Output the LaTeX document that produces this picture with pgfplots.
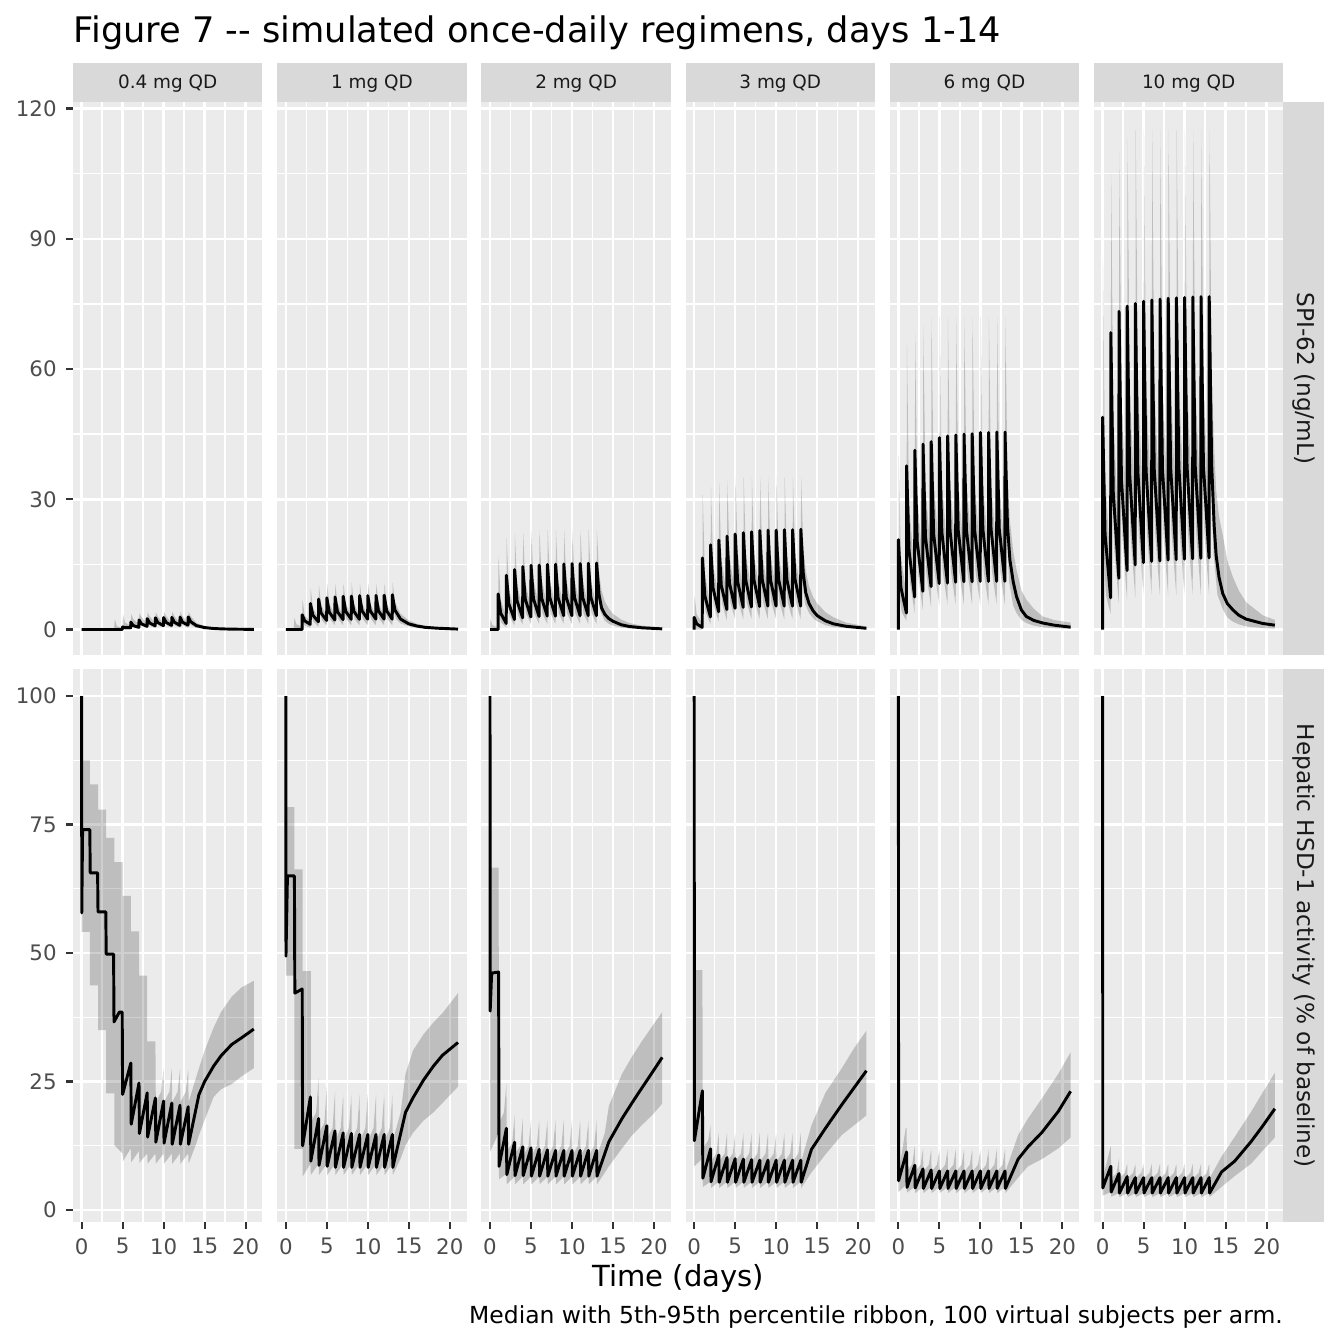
\documentclass[border=0pt]{standalone}
\usepackage{fontspec}
\setmainfont{DejaVu Sans}
\usepackage{pgfplots}
\pgfplotsset{compat=1.18}
\usepgfplotslibrary{fillbetween}

\definecolor{panelbg}{HTML}{EBEBEB}
\definecolor{stripbg}{HTML}{D9D9D9}
\definecolor{tickc}{HTML}{333333}
\definecolor{ticklab}{HTML}{4D4D4D}
\definecolor{striptext}{HTML}{1A1A1A}

\pgfplotsset{
  panel/.style={scale only axis, width=71.03pt, height=207.26pt,
    xmin=-1.05, xmax=22.05, enlargelimits=false, anchor=north west,
    axis background/.style={fill=panelbg}, axis line style={draw=none},
    grid=both, major grid style={draw=white, line width=0.95pt},
    minor grid style={draw=white, line width=0.5pt},
    xtick={0,5,10,15,20}, xticklabels={0,5,10,15,20}, minor xtick={2.5,7.5,12.5,17.5},
    tick align=outside, tick pos=left, major tick length=2.6pt, minor tick length=0pt,
    tick style={draw=tickc, line width=0.8pt},
    ticklabel style={font=\fontsize{8}{9}\selectfont, text=ticklab}},
  toprow/.style={ymin=-5.8, ymax=121.5, ytick={0,30,60,90,120},
    yticklabels={0,30,60,90,120}, minor ytick={15,45,75,105}, xmajorticks=false},
  botrow/.style={ymin=-2.33, ymax=105.2, ytick={0,25,50,75,100},
    yticklabels={0,25,50,75,100}, minor ytick={12.5,37.5,62.5,87.5}},
  innercol/.style={ymajorticks=false},
  med/.style={black, line width=1.1pt, line join=round},
  rib/.style={draw=none, fill=black, fill opacity=0.19},
  edge/.style={draw=none, forget plot},
}

\begin{document}
\begin{tikzpicture}
\path (0,0) rectangle (504pt,-504pt);

% ---------------- top row: SPI-62 concentration ----------------
% 0.4 mg QD
\begin{axis}[panel, toprow, at={(27.375pt,-38.25pt)}]
\addplot[edge, name path=ha] coordinates {(0,0)(3.95,0)(4.05,2.4)(4.3,0.8)(4.98,0.3)(5.05,3.4)(5.3,1.6)(5.98,0.9)(6.05,3.5)(6.3,2.4)(6.98,1.2)(7.05,3.8)(7.3,2.8)(7.98,1.4)(8.05,4)(8.3,3)(8.98,1.5)(9.05,4)(9.3,3)(9.98,1.5)(10.05,4.1)(10.3,3.1)(10.98,1.5)(11.05,4.1)(11.3,3.1)(11.98,1.5)(12.05,4.1)(12.3,3.1)(12.98,1.5)(13.05,4.1)(13.3,3.1)(14,1.5)(15,0.8)(16,0.45)(17,0.3)(18.5,0.15)(21,0.06)};
\addplot[edge, name path=la] coordinates {(0,0)(5.98,0)(6.1,0.8)(6.5,0.4)(6.98,0.25)(7.1,1.2)(7.5,0.6)(7.98,0.35)(8.1,1.4)(8.5,0.7)(8.98,0.4)(9.1,1.5)(9.5,0.8)(9.98,0.45)(10.1,1.5)(10.5,0.8)(10.98,0.45)(11.1,1.5)(11.5,0.8)(11.98,0.5)(12.1,1.5)(12.5,0.8)(12.98,0.5)(13.1,1.5)(13.5,0.8)(14,0.4)(15,0.15)(16,0.05)(21,0)};
\addplot[rib] fill between[of=ha and la];
\addplot[med] coordinates {(0,0)(4.95,0)(5,0.6)(5.3,0.45)(5.98,0.4)(6,1.7)(6.3,0.9)(6.98,0.5)(7,2.2)(7.3,1.3)(7.98,0.75)(8,2.5)(8.3,1.5)(8.98,0.85)(9,2.7)(9.3,1.6)(9.98,0.9)(10,2.75)(10.3,1.65)(10.98,0.95)(11,2.8)(11.3,1.7)(11.98,0.95)(12,2.85)(12.3,1.7)(12.98,1)(13,2.9)(13.3,1.8)(14,0.9)(15,0.45)(16,0.25)(17,0.15)(18.5,0.08)(21,0.03)};
\end{axis}

% 1 mg QD
\begin{axis}[panel, toprow, innercol, at={(103.95pt,-38.25pt)}]
\addplot[edge, name path=hb] coordinates {(0,0)(0.95,0)(1.05,2.7)(1.3,1.2)(1.98,0.6)(2.04,7)(2.3,3.2)(2.98,2)(3.04,9.5)(3.3,5)(3.98,2.7)(4.04,10.3)(4.3,5.7)(4.98,3.1)(5.04,10.7)(5.3,6)(5.98,3.3)(6.04,10.7)(6.3,6)(6.98,3.3)(7.04,10.7)(7.3,6)(7.98,3.3)(8.04,10.7)(8.3,6)(8.98,3.3)(9.04,10.7)(9.3,6)(9.98,3.3)(10.04,10.7)(10.3,6)(10.98,3.3)(11.04,10.7)(11.3,6)(11.98,3.3)(12.04,10.7)(12.3,6)(12.98,3.3)(13.04,10.8)(13.3,6.3)(14,3.6)(15,2.1)(16,1.3)(17,0.85)(18.5,0.5)(21,0.2)};
\addplot[edge, name path=lb] coordinates {(0,0)(2.05,0)(2.1,1.5)(2.4,0.8)(2.98,0.4)(3.1,3)(3.4,1.8)(3.98,0.6)(4.1,4)(4.4,2.2)(4.98,0.9)(5.1,4.3)(5.4,2.4)(5.98,1)(6.1,4.3)(6.4,2.4)(6.98,1)(7.1,4.3)(7.4,2.4)(7.98,1)(8.1,4.3)(8.4,2.4)(8.98,1)(9.1,4.3)(9.4,2.4)(9.98,1)(10.1,4.3)(10.4,2.4)(10.98,1)(11.1,4.3)(11.4,2.4)(11.98,1)(12.1,4.3)(12.4,2.4)(12.98,1)(13.1,4.4)(13.5,2.3)(14,1.4)(15,0.7)(16,0.4)(17,0.25)(18.5,0.12)(21,0.04)};
\addplot[rib] fill between[of=hb and lb];
\addplot[med] coordinates {(0,0)(1.98,0)(2,3.4)(2.3,2)(2.98,1.2)(3,6)(3.3,3.3)(3.98,1.8)(4,7)(4.3,3.8)(4.98,2.1)(5,7.3)(5.3,4)(5.98,2.2)(6,7.5)(6.3,4.1)(6.98,2.3)(7,7.65)(7.3,4.2)(7.98,2.35)(8,7.7)(8.3,4.2)(8.98,2.35)(9,7.8)(9.3,4.3)(9.98,2.4)(10,7.8)(10.3,4.3)(10.98,2.4)(11,7.85)(11.3,4.3)(11.98,2.4)(12,7.9)(12.3,4.3)(12.98,2.4)(13,8)(13.3,4.5)(14,2.4)(15,1.3)(16,0.8)(17,0.5)(18.5,0.3)(21,0.1)};
\end{axis}

% 2 mg QD
\begin{axis}[panel, toprow, innercol, at={(180.525pt,-38.25pt)}]
\addplot[edge, name path=hc] coordinates {(0,0)(0.04,2.5)(0.3,1)(0.98,0.5)(1.04,17)(1.3,7)(1.98,2.8)(2.04,21)(2.3,9.5)(2.98,4)(3.04,22)(3.3,10.5)(3.98,4.6)(4.04,22.5)(4.3,11)(4.98,5)(5.04,23)(5.3,11.5)(5.98,5.3)(6.04,23)(6.3,11.5)(6.98,5.3)(7.04,23)(7.3,11.5)(7.98,5.3)(8.04,23)(8.3,11.5)(8.98,5.3)(9.04,23)(9.3,11.5)(9.98,5.3)(10.04,23)(10.3,11.5)(10.98,5.3)(11.04,23)(11.3,11.5)(11.98,5.3)(12.04,23)(12.3,11.5)(12.98,5.3)(13.04,23)(13.3,13)(13.6,9)(14,6.5)(14.5,4.8)(15,3.6)(16,2.3)(17,1.5)(18.5,0.9)(21,0.4)};
\addplot[edge, name path=lc] coordinates {(0,0)(0.98,0)(1.1,3.5)(1.4,1.5)(1.98,0.5)(2.1,6.5)(2.4,3)(2.98,0.9)(3.1,7.5)(3.4,3.4)(3.98,1.1)(4.1,8)(4.4,3.7)(4.98,1.3)(5.1,8)(5.4,3.7)(5.98,1.3)(6.1,8)(6.4,3.7)(6.98,1.3)(7.1,8)(7.4,3.7)(7.98,1.3)(8.1,8)(8.4,3.7)(8.98,1.3)(9.1,8)(9.4,3.7)(9.98,1.3)(10.1,8)(10.4,3.7)(10.98,1.3)(11.1,8)(11.4,3.7)(11.98,1.3)(12.1,8)(12.4,3.7)(12.98,1.3)(13.1,8)(13.5,4)(14,2)(14.5,1.3)(15,0.9)(16,0.45)(17,0.25)(18.5,0.12)(21,0.04)};
\addplot[rib] fill between[of=hc and lc];
\addplot[med] coordinates {(0,0)(0.98,0)(1,8.2)(1.3,3.8)(1.98,1.4)(2,12.5)(2.3,5.9)(2.98,2.3)(3,13.8)(3.3,6.6)(3.98,2.7)(4,14.5)(4.3,7)(4.98,2.9)(5,14.8)(5.3,7.1)(5.98,3)(6,14.85)(6.3,7.2)(6.98,3.1)(7,15)(7.3,7.3)(7.98,3.1)(8,15.05)(8.3,7.3)(8.98,3.2)(9,15.1)(9.3,7.4)(9.98,3.2)(10,15.2)(10.3,7.4)(10.98,3.2)(11,15.2)(11.3,7.4)(11.98,3.2)(12,15.25)(12.3,7.4)(12.98,3.2)(13,15.3)(13.3,8)(13.6,5)(14,3.5)(14.5,2.5)(15,1.9)(16,1.1)(17,0.7)(18.5,0.4)(21,0.15)};
\end{axis}

% 3 mg QD
\begin{axis}[panel, toprow, innercol, at={(257.1pt,-38.25pt)}]
\addplot[edge, name path=hd] coordinates {(0,0)(0.04,8)(0.3,3.5)(0.98,1.5)(1.04,31)(1.3,13)(1.98,5.2)(2.04,33)(2.3,15.5)(2.98,7)(3.04,34)(3.3,16.5)(3.98,7.8)(4.04,34.5)(4.3,17)(4.98,8.3)(5.04,35)(5.3,17.5)(5.98,8.7)(6.04,35)(6.3,17.5)(6.98,8.7)(7.04,35)(7.3,17.5)(7.98,8.7)(8.04,35)(8.3,17.5)(8.98,8.7)(9.04,35)(9.3,17.5)(9.98,8.7)(10.04,35)(10.3,17.5)(10.98,8.7)(11.04,35)(11.3,17.5)(11.98,8.7)(12.04,35)(12.3,17.5)(12.98,8.7)(13.04,35)(13.3,19)(13.6,13.5)(14,10)(14.5,7.5)(15,6)(16,4)(17,2.8)(18.5,1.6)(21,0.7)};
\addplot[edge, name path=ld] coordinates {(0,0)(0.98,0)(1.1,8)(1.4,4)(1.98,1.2)(2.1,11)(2.4,5.5)(2.98,1.8)(3.1,12)(3.4,6)(3.98,2.1)(4.1,12.5)(4.4,6.3)(4.98,2.4)(5.1,12.5)(5.4,6.3)(5.98,2.4)(6.1,12.5)(6.4,6.3)(6.98,2.4)(7.1,12.5)(7.4,6.3)(7.98,2.4)(8.1,12.5)(8.4,6.3)(8.98,2.4)(9.1,12.5)(9.4,6.3)(9.98,2.4)(10.1,12.5)(10.4,6.3)(10.98,2.4)(11.1,12.5)(11.4,6.3)(11.98,2.4)(12.1,12.5)(12.4,6.3)(12.98,2.4)(13.1,12.5)(13.5,6)(14,3.8)(14.5,2.6)(15,1.9)(16,1)(17,0.55)(18.5,0.3)(21,0.1)};
\addplot[rib] fill between[of=hd and ld];
\addplot[med] coordinates {(0,0)(0,2.8)(0.3,1.3)(0.98,0.5)(1,16.5)(1.3,7.7)(1.98,2.9)(2,19.5)(2.3,9.5)(2.98,4.1)(3,20.6)(3.3,10.2)(3.98,4.6)(4,21.5)(4.3,10.7)(4.98,4.9)(5,22)(5.3,11)(5.98,5.1)(6,22.3)(6.3,11.2)(6.98,5.2)(7,22.5)(7.3,11.3)(7.98,5.3)(8,22.8)(8.3,11.5)(8.98,5.4)(9,22.9)(9.3,11.5)(9.98,5.4)(10,22.9)(10.3,11.5)(10.98,5.4)(11,23)(11.3,11.5)(11.98,5.4)(12,23)(12.3,11.5)(12.98,5.4)(13,23.1)(13.3,13)(13.6,8.5)(14,6)(14.5,4.3)(15,3.2)(16,2)(17,1.3)(18.5,0.75)(21,0.28)};
\end{axis}

% 6 mg QD
\begin{axis}[panel, toprow, innercol, at={(333.675pt,-38.25pt)}]
\addplot[edge, name path=he] coordinates {(0,0)(0.04,40)(0.3,17)(0.98,8)(1.04,66)(1.3,29)(1.98,13)(2.04,68)(2.3,31)(2.98,15)(3.04,70)(3.3,33)(3.98,16.5)(4.04,72)(4.3,34)(4.98,17.5)(5.04,72)(5.3,34)(5.98,17.5)(6.04,72)(6.3,34)(6.98,17.5)(7.04,72)(7.3,34)(7.98,17.5)(8.04,72)(8.3,34)(8.98,17.5)(9.04,72)(9.3,34)(9.98,17.5)(10.04,72)(10.3,34)(10.98,17.5)(11.04,72)(11.3,34)(11.98,17.5)(12.04,72)(12.3,34)(12.98,17.5)(13.04,72)(13.3,36)(13.6,25)(14,18)(14.4,13.8)(15,9)(15.6,6.9)(16.5,4.8)(17.6,3)(19,2.2)(21,1.6)};
\addplot[edge, name path=le] coordinates {(0,0)(0.1,8)(0.4,4)(0.98,2)(1.1,22)(1.4,11)(1.98,3.8)(2.1,25)(2.4,12.5)(2.98,4.5)(3.1,26)(3.4,13)(3.98,5.2)(4.1,27)(4.4,13.5)(4.98,5.7)(5.1,27)(5.4,13.5)(5.98,5.7)(6.1,27)(6.4,13.5)(6.98,5.7)(7.1,27)(7.4,13.5)(7.98,5.7)(8.1,27)(8.4,13.5)(8.98,5.7)(9.1,27)(9.4,13.5)(9.98,5.7)(10.1,27)(10.4,13.5)(10.98,5.7)(11.1,27)(11.4,13.5)(11.98,5.7)(12.1,27)(12.4,13.5)(12.98,5.7)(13.1,27)(13.5,11)(14,5.5)(14.4,3.8)(15,2.2)(15.6,1.5)(16.5,0.9)(17.6,0.5)(19,0.3)(21,0.15)};
\addplot[rib] fill between[of=he and le];
\addplot[med] coordinates {(0,0)(0,20.7)(0.3,9.7)(0.98,3.8)(1,37.7)(1.3,18.1)(1.98,7.5)(2,41.3)(2.3,20.2)(2.98,8.8)(3,42.7)(3.3,21.4)(3.98,9.9)(4,43.3)(4.3,22)(4.98,10.6)(5,44.2)(5.3,22.4)(5.98,10.7)(6,44.6)(6.3,22.7)(6.98,10.9)(7,44.8)(7.3,22.8)(7.98,11)(8,45)(8.3,22.9)(8.98,11)(9,45.1)(9.3,22.9)(9.98,11.1)(10,45.4)(10.3,23.1)(10.98,11.1)(11,45.4)(11.3,23.1)(11.98,11.1)(12,45.5)(12.3,23.2)(12.98,11.1)(13,45.5)(13.3,24)(13.6,16)(14,11)(14.4,7.6)(15,4.5)(15.6,3)(16.5,2.1)(17.6,1.5)(19,1)(21,0.55)};
\end{axis}

% 10 mg QD
\begin{axis}[panel, toprow, innercol, at={(410.25pt,-38.25pt)}]
\addplot[edge, name path=hf] coordinates {(0,0)(0.04,85)(0.3,36)(0.98,14)(1.04,105)(1.3,50)(1.98,21)(2.04,110)(2.3,54)(2.98,24)(3.04,113)(3.3,56)(3.98,26)(4.04,115)(4.3,57)(4.98,27)(5.04,115)(5.3,57)(5.98,27)(6.04,115)(6.3,57)(6.98,27)(7.04,115)(7.3,57)(7.98,27)(8.04,115)(8.3,57)(8.98,27)(9.04,115)(9.3,57)(9.98,27)(10.04,115)(10.3,57)(10.98,27)(11.04,115)(11.3,57)(11.98,27)(12.04,115)(12.3,57)(12.98,27)(13.04,115)(13.3,58)(13.6,42)(13.85,32)(14.2,26)(14.65,21.8)(15.2,16)(15.9,12)(16.6,9)(17.5,6.3)(19.5,3.3)(21,2.2)};
\addplot[edge, name path=lf] coordinates {(0,0)(0.1,20)(0.4,8)(0.98,3.5)(1.1,40)(1.4,19)(1.98,6)(2.1,44)(2.4,21)(2.98,7)(3.1,45)(3.4,22)(3.98,7.5)(4.1,46)(4.4,22.5)(4.98,8)(5.1,46)(5.4,22.5)(5.98,8)(6.1,46)(6.4,22.5)(6.98,8)(7.1,46)(7.4,22.5)(7.98,8)(8.1,46)(8.4,22.5)(8.98,8)(9.1,46)(9.4,22.5)(9.98,8)(10.1,46)(10.4,22.5)(10.98,8)(11.1,46)(11.4,22.5)(11.98,8)(12.1,46)(12.4,22.5)(12.98,8)(13.1,46)(13.5,18)(14,8)(14.65,4.7)(15.2,2.8)(15.9,1.8)(16.6,1.2)(17.5,0.7)(19.5,0.35)(21,0.2)};
\addplot[rib] fill between[of=hf and lf];
\addplot[med] coordinates {(0,0)(0,48.9)(0.3,21.9)(0.98,7.3)(1,68.4)(1.3,31.6)(1.98,11.8)(2,73.3)(2.3,34.5)(2.98,13.6)(3,74.5)(3.3,35.8)(3.98,14.9)(4,75.1)(4.3,36.3)(4.98,15.4)(5,75.6)(5.3,36.7)(5.98,15.7)(6,75.9)(6.3,36.8)(6.98,15.8)(7,76.1)(7.3,37)(7.98,16)(8,76.3)(8.3,37.2)(8.98,16.1)(9,76.4)(9.3,37.3)(9.98,16.2)(10,76.5)(10.3,37.4)(10.98,16.3)(11,76.6)(11.3,37.5)(11.98,16.4)(12,76.7)(12.3,37.6)(12.98,16.5)(13,76.7)(13.3,38)(13.6,24)(13.85,17)(14.2,12)(14.65,8.3)(15.2,6)(15.9,4.5)(16.6,3.3)(17.5,2.4)(19.5,1.4)(21,1)};
\end{axis}

% ---------------- bottom row: hepatic HSD-1 activity ----------------
% 0.4 mg QD
\begin{axis}[panel, botrow, at={(27.375pt,-250.99pt)}]
\addplot[edge, name path=hg] coordinates {(0,87.5)(1,87.5)(1,82.8)(2,82.8)(2,77.9)(3,77.9)(3,72.4)(4,72.4)(4,67.7)(5,67.7)(5,61.1)(6,61.1)(6,54.2)(7,54.2)(7,45.6)(8,45.6)(8,32.8)(9,32.8)(9.05,21)(9.7,23)(10,27.5)(10.05,21)(10.7,23)(11,27.5)(11.05,21)(11.7,23)(12,27.5)(12.05,21)(12.7,23)(13,27.5)(13.05,21)(14,26)(15,31)(16.1,35.5)(17,38.5)(18.3,41.5)(19.5,43.3)(21,44.6)};
\addplot[edge, name path=lg] coordinates {(0,54.1)(1,54.1)(1,43.7)(2,43.7)(2,35)(3,35)(3,22.7)(4,22.7)(4,12.6)(5,11)(5.05,9.5)(6,12)(6.05,9.3)(7,11.5)(7.05,9.2)(8,11)(8.05,9)(9,11)(9.05,9)(10,11)(10.05,9)(11,11)(11.05,9)(12,11)(12.05,9)(13,11)(13.05,9)(14,13)(14.3,14.5)(15,17.5)(16.1,22)(17,23.5)(18.3,24.5)(19.5,26)(21,27.6)};
\addplot[rib] fill between[of=hg and lg];
\addplot[med] coordinates {(0,100)(0.02,57.8)(0.12,74)(1,74)(1.05,65.6)(1.95,65.6)(2,58)(2.95,58)(3,49.8)(3.9,49.8)(3.95,36.6)(4.6,38.5)(4.95,38.5)(5,22.5)(6,28.6)(6.05,16.7)(7,24.7)(7.05,14.9)(8,22.8)(8.05,14.2)(9,21.8)(9.05,13.2)(10,21.2)(10.05,13)(11,20.8)(11.05,12.8)(12,20.4)(12.05,12.8)(13,20.1)(13.05,12.8)(14.3,22.4)(15,25)(16.1,28)(17,30)(18.3,32.2)(19.5,33.5)(21,35.2)};
\end{axis}

% 1 mg QD
\begin{axis}[panel, botrow, innercol, at={(103.95pt,-250.99pt)}]
\addplot[edge, name path=hh] coordinates {(0,78.4)(1.05,78.4)(1.05,66.3)(2.05,66.3)(2.05,46.5)(3.05,46.5)(3.05,17)(3.7,19)(4,25.8)(4.05,15)(4.7,17)(5,24)(5.05,14)(5.7,16)(6,23)(6.05,13.5)(6.7,16)(7,22.5)(7.05,13.5)(7.7,16)(8,22.5)(8.05,13.5)(8.7,16)(9,22.5)(9.05,13.5)(9.7,16)(10,22.5)(10.05,13.5)(10.7,16)(11,22.5)(11.05,13.5)(11.7,16)(12,22.5)(12.05,13.5)(12.7,16)(13,22.5)(13.05,13.5)(14,19)(14.6,26.5)(15.5,31)(16.8,34.2)(18,36.5)(19.1,38.3)(21,42.2)};
\addplot[edge, name path=lh] coordinates {(0,45.6)(1.05,45.6)(1.05,11.9)(2.05,11.9)(2.05,6.5)(3,9)(3.05,6.8)(4,9)(4.05,6.8)(5,9)(5.05,6.8)(6,9)(6.05,6.8)(7,9)(7.05,6.8)(8,9)(8.05,6.8)(9,9)(9.05,6.8)(10,9)(10.05,6.8)(11,9)(11.05,6.8)(12,9)(12.05,6.8)(13,9)(13.05,6.8)(14,10)(14.6,12.6)(15.5,15)(16.8,17.4)(18,19)(19.1,20.8)(21,24)};
\addplot[rib] fill between[of=hh and lh];
\addplot[med] coordinates {(0,100)(0.02,49.4)(0.2,65)(1.05,65)(1.1,42.2)(2,43)(2.05,12.5)(3,22)(3.05,9.5)(4,17.8)(4.05,8.7)(5,16.4)(5.05,8.5)(6,15.4)(6.05,8.3)(7,15)(7.05,8.3)(8,14.9)(8.05,8.3)(9,14.7)(9.05,8.3)(10,14.7)(10.05,8.3)(11,14.7)(11.05,8.3)(12,14.7)(12.05,8.3)(13,14.7)(13.05,8.3)(14.6,19)(15.5,21.8)(16.8,25.3)(18,28)(19.1,30.1)(21,32.6)};
\end{axis}

% 2 mg QD
\begin{axis}[panel, botrow, innercol, at={(180.525pt,-250.99pt)}]
\addplot[edge, name path=hi] coordinates {(0,66.6)(1.05,66.6)(1.1,17)(1.7,19)(2,24.7)(2.05,11.5)(2.7,13)(3,18.5)(3.05,11)(3.7,12.5)(4,17.8)(4.05,10.5)(4.7,12.5)(5,17.5)(5.05,10.5)(5.7,12.5)(6,17.5)(6.05,10.5)(6.7,12.5)(7,17.5)(7.05,10.5)(7.7,12.5)(8,17.5)(8.05,10.5)(8.7,12.5)(9,17.5)(9.05,10.5)(9.7,12.5)(10,17.5)(10.05,10.5)(10.7,12.5)(11,17.5)(11.05,10.5)(11.7,12.5)(12,17.5)(12.05,10.5)(12.7,12.5)(13,17.5)(13.05,10.5)(14,15)(14.5,20.3)(16.1,26.5)(17.3,29.8)(18.5,32.8)(19.8,35.8)(21,38.5)};
\addplot[edge, name path=li] coordinates {(0,11.3)(1.05,15)(1.1,6)(2,7)(2.05,5)(3,6.5)(3.05,5)(4,6.5)(4.05,5)(5,6.5)(5.05,5)(6,6.5)(6.05,5)(7,6.5)(7.05,5)(8,6.5)(8.05,5)(9,6.5)(9.05,5)(10,6.5)(10.05,5)(11,6.5)(11.05,5)(12,6.5)(12.05,5)(13,6.5)(13.05,5)(14.5,8.5)(16.1,12)(17.3,14.5)(18.5,16.5)(19.8,18.5)(21,20.7)};
\addplot[rib] fill between[of=hi and li];
\addplot[med] coordinates {(0,100)(0.02,38.7)(0.2,46.1)(1.05,46.3)(1.1,8.5)(2,15.9)(2.05,6.9)(3,13.2)(3.05,6.7)(4,12.3)(4.05,6.7)(5,12.1)(5.05,6.6)(6,11.8)(6.05,6.6)(7,11.7)(7.05,6.6)(8,11.6)(8.05,6.6)(9,11.6)(9.05,6.6)(10,11.6)(10.05,6.6)(11,11.6)(11.05,6.6)(12,11.6)(12.05,6.6)(13,11.6)(13.05,6.6)(14.5,13.3)(16.1,17.8)(17.3,20.8)(18.5,23.7)(19.8,26.8)(21,29.7)};
\end{axis}

% 3 mg QD
\begin{axis}[panel, botrow, innercol, at={(257.1pt,-250.99pt)}]
\addplot[edge, name path=hj] coordinates {(0,46.7)(1,46.7)(1.05,12)(1.7,13.5)(2,16.5)(2.05,9.5)(2.7,11)(3,15)(3.05,9.5)(3.7,11)(4,15)(4.05,9.5)(4.7,11)(5,15)(5.05,9.5)(5.7,11)(6,15)(6.05,9.5)(6.7,11)(7,15)(7.05,9.5)(7.7,11)(8,15)(8.05,9.5)(8.7,11)(9,15)(9.05,9.5)(9.7,11)(10,15)(10.05,9.5)(10.7,11)(11,15)(11.05,9.5)(11.7,11)(12,15)(12.05,9.5)(12.7,11)(13,15)(13.05,9.5)(14.3,16.5)(16,22.8)(18,27.6)(19.5,31.5)(21,34.9)};
\addplot[edge, name path=lj] coordinates {(0,8.5)(1,10)(1.05,4.5)(2,5.5)(2.05,4.3)(3,5.5)(3.05,4.3)(4,5.5)(4.05,4.3)(5,5.5)(5.05,4.3)(6,5.5)(6.05,4.3)(7,5.5)(7.05,4.3)(8,5.5)(8.05,4.3)(9,5.5)(9.05,4.3)(10,5.5)(10.05,4.3)(11,5.5)(11.05,4.3)(12,5.5)(12.05,4.3)(13,5.5)(13.05,4.3)(14.3,7.3)(16,10.8)(18,14.6)(19.5,16.5)(21,18.4)};
\addplot[rib] fill between[of=hj and lj];
\addplot[med] coordinates {(0,100)(0.02,13.5)(1,23.2)(1.05,6.2)(2,11.9)(2.05,5.5)(3,10.7)(3.05,5.4)(4,10.2)(4.05,5.4)(5,10)(5.05,5.4)(6,9.9)(6.05,5.4)(7,9.8)(7.05,5.4)(8,9.7)(8.05,5.4)(9,9.7)(9.05,5.4)(10,9.7)(10.05,5.4)(11,9.7)(11.05,5.4)(12,9.7)(12.05,5.4)(13,9.7)(13.05,5.4)(14.3,11.8)(16,15.9)(18,20.5)(19.5,23.8)(21,27.1)};
\end{axis}

% 6 mg QD
\begin{axis}[panel, botrow, innercol, at={(333.675pt,-250.99pt)}]
\addplot[edge, name path=hk] coordinates {(0,7)(0.9,16)(1,16)(1.05,7.5)(1.7,9)(2,12.5)(2.05,7.5)(2.7,8.8)(3,12)(3.05,7.5)(3.7,8.8)(4,11.8)(4.05,7.5)(4.7,8.8)(5,11.8)(5.05,7.5)(5.7,8.8)(6,11.8)(6.05,7.5)(6.7,8.8)(7,11.8)(7.05,7.5)(7.7,8.8)(8,11.8)(8.05,7.5)(8.7,8.8)(9,11.8)(9.05,7.5)(9.7,8.8)(10,11.8)(10.05,7.5)(10.7,8.8)(11,11.8)(11.05,7.5)(11.7,8.8)(12,11.8)(12.05,7.5)(12.7,8.8)(13,11.8)(13.05,7.5)(14.6,14.6)(15.8,17.8)(17.5,21.7)(19.5,26.5)(21,30.7)};
\addplot[edge, name path=lk] coordinates {(0,3.5)(1,5)(1.05,3.4)(2,4.5)(2.05,3.3)(3,4.5)(3.05,3.3)(4,4.5)(4.05,3.3)(5,4.5)(5.05,3.3)(6,4.5)(6.05,3.3)(7,4.5)(7.05,3.3)(8,4.5)(8.05,3.3)(9,4.5)(9.05,3.3)(10,4.5)(10.05,3.3)(11,4.5)(11.05,3.3)(12,4.5)(12.05,3.3)(13,4.5)(13.05,3.3)(14.6,6.3)(15.8,8.5)(17.5,9.9)(19.5,12)(21,14.1)};
\addplot[rib] fill between[of=hk and lk];
\addplot[med] coordinates {(0,100)(0.02,5.7)(1,11.3)(1.05,4.4)(2,8.7)(2.05,4.3)(3,8)(3.05,4.2)(4,7.8)(4.05,4.2)(5,7.6)(5.05,4.2)(6,7.6)(6.05,4.2)(7,7.6)(7.05,4.2)(8,7.6)(8.05,4.2)(9,7.6)(9.05,4.2)(10,7.6)(10.05,4.2)(11,7.6)(11.05,4.2)(12,7.6)(12.05,4.2)(13,7.6)(13.05,4.2)(14.6,9.9)(15.8,12.3)(17.5,15.1)(19.5,19.2)(21,23.1)};
\end{axis}

% 10 mg QD
\begin{axis}[panel, botrow, innercol, at={(410.25pt,-250.99pt)}]
\addplot[edge, name path=hl] coordinates {(0,6)(1,12.5)(1.05,6.2)(1.7,7.2)(2,10)(2.05,6.2)(2.7,7.2)(3,9)(3.05,6.2)(3.7,7.2)(4,9)(4.05,6.2)(4.7,7.2)(5,9)(5.05,6.2)(5.7,7.2)(6,9)(6.05,6.2)(6.7,7.2)(7,9)(7.05,6.2)(7.7,7.2)(8,9)(8.05,6.2)(8.7,7.2)(9,9)(9.05,6.2)(9.7,7.2)(10,9)(10.05,6.2)(10.7,7.2)(11,9)(11.05,6.2)(11.7,7.2)(12,9)(12.05,6.2)(12.7,7.2)(13,9)(13.05,6.2)(14.5,10.4)(16.1,14.2)(18.1,19.1)(19.5,22.8)(21,26.7)};
\addplot[edge, name path=ll] coordinates {(0,2.8)(1,3.5)(1.05,2.6)(2,3.3)(2.05,2.5)(3,3.3)(3.05,2.5)(4,3.3)(4.05,2.5)(5,3.3)(5.05,2.5)(6,3.3)(6.05,2.5)(7,3.3)(7.05,2.5)(8,3.3)(8.05,2.5)(9,3.3)(9.05,2.5)(10,3.3)(10.05,2.5)(11,3.3)(11.05,2.5)(12,3.3)(12.05,2.5)(13,3.3)(13.05,2.5)(14.5,4.5)(16.1,6.6)(18.1,9)(19.5,11.5)(21,14.1)};
\addplot[rib] fill between[of=hl and ll];
\addplot[med] coordinates {(0,100)(0.02,4.3)(1,8.5)(1.05,3.5)(2,7.1)(2.05,3.3)(3,6.5)(3.05,3.3)(4,6.3)(4.05,3.3)(5,6.3)(5.05,3.3)(6,6.3)(6.05,3.3)(7,6.3)(7.05,3.3)(8,6.3)(8.05,3.3)(9,6.3)(9.05,3.3)(10,6.3)(10.05,3.3)(11,6.3)(11.05,3.3)(12,6.3)(12.05,3.3)(13,6.3)(13.05,3.3)(14.5,7.4)(16.1,9.5)(18.1,13.3)(19.5,16.3)(21,19.7)};
\end{axis}

% ---------------- strips, titles ----------------
\begin{scope}[every node/.style={text=striptext, inner sep=0pt, font=\fontsize{6.9}{8}\selectfont}]
\fill[stripbg] (27.375pt,-23.625pt) rectangle (98.405pt,-38.25pt);
\fill[stripbg] (103.95pt,-23.625pt) rectangle (174.98pt,-38.25pt);
\fill[stripbg] (180.525pt,-23.625pt) rectangle (251.555pt,-38.25pt);
\fill[stripbg] (257.1pt,-23.625pt) rectangle (328.13pt,-38.25pt);
\fill[stripbg] (333.675pt,-23.625pt) rectangle (404.705pt,-38.25pt);
\fill[stripbg] (410.25pt,-23.625pt) rectangle (481.28pt,-38.25pt);
\node at (62.89pt,-31.4pt) {0.4 mg QD};
\node at (139.465pt,-31.4pt) {1 mg QD};
\node at (216.04pt,-31.4pt) {2 mg QD};
\node at (292.615pt,-31.4pt) {3 mg QD};
\node at (369.19pt,-31.4pt) {6 mg QD};
\node at (445.765pt,-31.4pt) {10 mg QD};
\fill[stripbg] (481.28pt,-38.25pt) rectangle (496.5pt,-245.51pt);
\fill[stripbg] (481.28pt,-250.99pt) rectangle (496.5pt,-458.25pt);
\node[rotate=-90, font=\fontsize{8.7}{10}\selectfont] at (488.89pt,-141.88pt) {SPI-62 (ng/mL)};
\node[rotate=-90, font=\fontsize{8.7}{10}\selectfont] at (488.89pt,-354.62pt) {Hepatic HSD-1 activity (\% of baseline)};
\end{scope}

\node[anchor=base west, inner sep=0pt, font=\fontsize{13.2}{16}\selectfont] at (27.375pt,-16.1pt) {Figure 7 \mbox{-}\mbox{-} simulated once-daily regimens, days 1-14};
\node[anchor=base, inner sep=0pt, font=\fontsize{10.9}{13}\selectfont] at (254.3pt,-482.25pt) {Time (days)};
\node[anchor=base east, inner sep=0pt, font=\fontsize{8.8}{10}\selectfont] at (481.28pt,-496.3pt) {Median with 5th-95th percentile ribbon, 100 virtual subjects per arm.};
\end{tikzpicture}
\end{document}
